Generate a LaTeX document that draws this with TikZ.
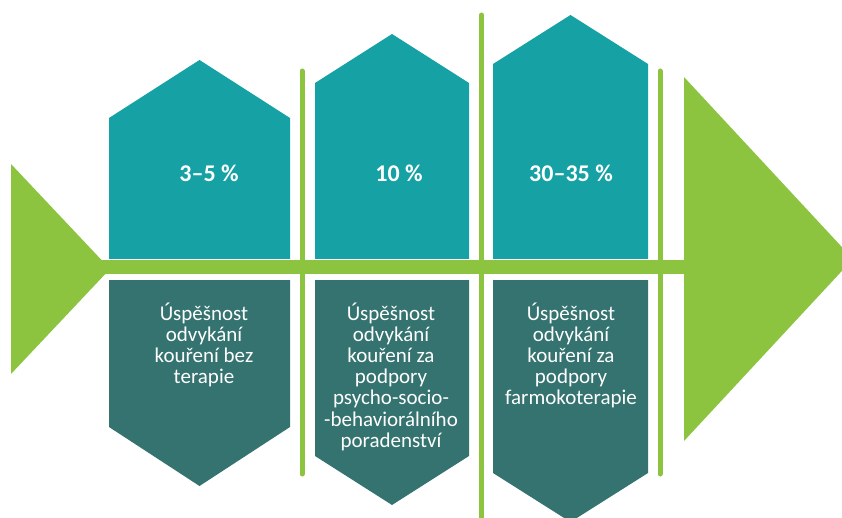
\documentclass[tikz,border=0pt]{standalone}
\usepackage{fontspec}
\setmainfont{Carlito}
\definecolor{fbTop}{HTML}{16A1A5}
\definecolor{fbBot}{HTML}{34736F}
\definecolor{fbBone}{HTML}{8CC43F}
\begin{document}
\begin{tikzpicture}[
  x=1pt, y=-1pt,
  topcard/.style={fill=fbTop},
  botcard/.style={fill=fbBot},
  bone/.style={fill=fbBone},
  rib/.style={draw=fbBone, line width=5pt, line cap=round},
  pct/.style={text=white, font=\fontsize{24}{28}\selectfont\bfseries, inner sep=0pt, anchor=base},
  % base of a wrapped node is the baseline of its last line
  desc/.style={text=white, font=\fontsize{21}{21.2}\selectfont, align=center, inner sep=0pt, anchor=base},
]
\useasboundingbox (0,0) rectangle (842,518);
\clip (0,0) rectangle (842,518);
% tail, spine and head of the fish
\fill[bone] (11,164) -- (11,374) -- (110,269) -- cycle;
\fill[bone] (100,260) rectangle (690,274.5);
\fill[bone] (684,77) -- (684,441) -- (853,259) -- cycle;
% ribs between the cards
\draw[rib] (302,71) -- (302,474);
\draw[rib] (481.5,15) -- (481.5,530);
\draw[rib] (660,71) -- (660,474);
% upper cards (percentages)
\fill[topcard] (109,259) -- (109,118) -- (199.5,60) -- (290,118) -- (290,259) -- cycle;
\fill[topcard] (315,259) -- (315,83) -- (392,34) -- (469,83) -- (469,259) -- cycle;
\fill[topcard] (493,259) -- (493,64) -- (570.5,15) -- (648,64) -- (648,259) -- cycle;
\node[pct] (pct1) at (209,182) {3--5 \%};
\node[pct] (pct2) at (399,182) {10 \%};
\node[pct] (pct3) at (571,182) {30--35 \%};
% lower cards (descriptions)
\fill[botcard] (109,280) -- (109,427) -- (199.5,486) -- (290,427) -- (290,280) -- cycle;
\fill[botcard] (315,280) -- (315,456) -- (392,505) -- (469,456) -- (469,280) -- cycle;
\fill[botcard] (493,280) -- (493,473) -- (570.5,522) -- (648,473) -- (648,280) -- cycle;
\node[desc] (desc1) at (204,383.6) {Úspěšnost\\odvykání\\kouření bez\\terapie};
\node[desc] (desc2) at (391,447.2) {Úspěšnost\\odvykání\\kouření za\\podpory\\psycho-socio-\\-behaviorálního\\poradenství};
\node[desc] (desc3) at (571,404.8) {Úspěšnost\\odvykání\\kouření za\\podpory\\farmokoterapie};
\end{tikzpicture}
\end{document}
